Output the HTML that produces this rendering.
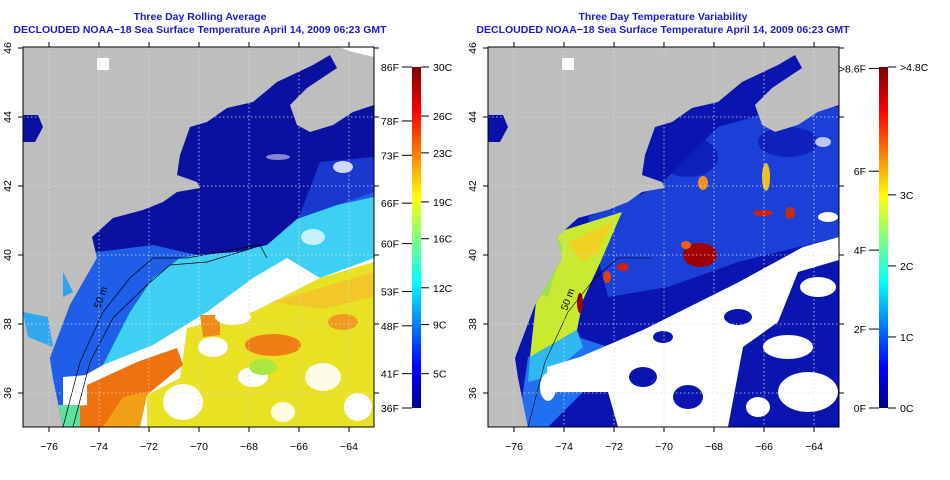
<!DOCTYPE html>
<html><head><meta charset="utf-8"><style>
html,body{margin:0;padding:0;background:#fff;}
body{width:950px;height:475px;overflow:hidden;font-family:"Liberation Sans",sans-serif;}
svg text{font-family:"Liberation Sans",sans-serif;}
</style></head><body>
<svg id="chart" width="950" height="475" viewBox="0 0 950 475" xmlns="http://www.w3.org/2000/svg">
<defs>
<clipPath id="plotclip"><rect x="0" y="0" width="351" height="380"/></clipPath>
<clipPath id="oceanclip"><path d="M40,380 L30,331 L27,311 L47,258 L74,211 L69,190 L90,171 L120,163 L140,155 L154,145 L177,141 L174,135 L154,128 L157,108 L167,80 L184,75 L204,61 L230,55 L254,35 L290,18 L307,8 L314,21 L284,41 L267,58 L274,78 L287,85 L310,78 L330,65 L351,58 L351,380 Z"/></clipPath>
<linearGradient id="jet" x1="0" y1="1" x2="0" y2="0">
<stop offset="0" stop-color="#00008f"/><stop offset="0.12" stop-color="#0000ff"/><stop offset="0.37" stop-color="#00ffff"/><stop offset="0.5" stop-color="#80ff80"/><stop offset="0.62" stop-color="#ffff00"/><stop offset="0.87" stop-color="#ff0000"/><stop offset="1" stop-color="#800000"/>
</linearGradient>
</defs>

<g fill="#1a1ac8" font-weight="bold" font-size="10.5" text-anchor="middle">
<text x="200" y="20">Three Day Rolling Average</text>
<text x="200" y="33">DECLOUDED NOAA−18 Sea Surface Temperature April 14, 2009 06:23 GMT</text>
</g>
<g fill="#1a1ac8" font-weight="bold" font-size="10.5" text-anchor="middle">
<text x="663" y="20">Three Day Temperature Variability</text>
<text x="663" y="33">DECLOUDED NOAA−18 Sea Surface Temperature April 14, 2009 06:23 GMT</text>
</g>

<!-- Left map -->
<g id="mapL" transform="translate(23,47)">
<g clip-path="url(#plotclip)">
<rect width="351" height="380" fill="#bebebe"/>
<path d="M0,68 L15,68 L20,80 L12,95 L0,95 Z" fill="#0a10a0"/>
<path d="M40,225 L50,245 L40,250 Z" fill="#30a0f0"/>
<path d="M0,265 L25,270 L30,300 L5,290 Z" fill="#30a8f0"/>
<rect x="74" y="11" width="12" height="12" fill="#fff"/>
<path d="M315,0 L351,0 L351,10 L330,5 Z" fill="#fff"/>
<g clip-path="url(#oceanclip)">
<rect width="351" height="380" fill="#0a10a0"/>
<path d="M274,175 L314,158 L351,145 L351,110 L297,115 Z" fill="#1838d0"/>
<path d="M0,200 L74,205 L130,198 L174,208 L214,205 L244,198 L274,175 L314,158 L351,145 L351,380 L0,380 Z" fill="#1e5ee8"/>
<path d="M157,211 L174,208 L214,205 L244,198 L274,172 L314,158 L351,150 L351,380 L80,380 L80,318 L107,265 L130,231 Z" fill="#3ed0f2"/>
<path d="M80,318 L130,298 L184,265 L230,231 L264,211 L297,231 L351,211 L351,380 L57,380 L57,331 Z" fill="#ffffff"/>
<path d="M164,281 L230,265 L297,231 L351,215 L351,380 L124,380 L124,348 L157,331 Z" fill="#e8e222"/>
<path d="M250,255 L300,240 L351,225 L351,250 L300,262 Z" fill="#f2c828"/>
<path d="M40,380 L64,338 L114,315 L154,301 L160,318 L124,348 L117,380 Z" fill="#f0720e"/>
<path d="M80,380 L100,350 L124,345 L117,380 Z" fill="#f2a018"/>
<path d="M177,268 L197,268 L197,288 L180,290 Z" fill="#f08a18"/>
<ellipse cx="250" cy="298" rx="28" ry="11" fill="#f07e14"/>
<ellipse cx="320" cy="275" rx="15" ry="8" fill="#f09a20"/>
<path d="M40,330 L64,328 L64,358 L40,360 Z" fill="#ffffff"/>
<path d="M27,358 L57,358 L57,380 L27,380 Z" fill="#60e0a0"/>
<ellipse cx="160" cy="355" rx="20" ry="18" fill="#ffffff"/>
<ellipse cx="190" cy="300" rx="15" ry="10" fill="#ffffff"/>
<ellipse cx="230" cy="330" rx="15" ry="10" fill="#ffffff"/>
<ellipse cx="300" cy="330" rx="18" ry="14" fill="#ffffff" opacity="0.9"/>
<ellipse cx="335" cy="360" rx="14" ry="14" fill="#ffffff"/>
<ellipse cx="260" cy="365" rx="12" ry="10" fill="#ffffff" opacity="0.85"/>
<ellipse cx="210" cy="270" rx="18" ry="8" fill="#ffffff"/>
<ellipse cx="240" cy="320" rx="14" ry="8" fill="#a8e840"/>
<ellipse cx="290" cy="190" rx="12" ry="8" fill="#ffffff" opacity="0.7"/>
<ellipse cx="320" cy="120" rx="10" ry="6" fill="#ffffff" opacity="0.8"/>
<ellipse cx="255" cy="110" rx="12" ry="3" fill="#ffffff" opacity="0.5"/>
</g>
<path d="M40,380 L57,315 L80,265 L107,231 L130,211 L164,211 L197,205 L237,198 L244,211" fill="none" stroke="#000" stroke-width="0.7"/>
<path d="M50,380 L67,315 L90,271 L124,238 L147,218 L184,215 L230,201" fill="none" stroke="#000" stroke-width="0.7"/>
<text x="0" y="0" font-size="10" font-family="Liberation Serif" transform="translate(77,262) rotate(-70)">50 m</text>
</g>
</g>

<!-- Right map -->
<g id="mapR" transform="translate(488,47)">
<g clip-path="url(#plotclip)">
<rect width="351" height="380" fill="#bebebe"/>
<path d="M0,68 L15,68 L20,80 L12,95 L0,95 Z" fill="#0a10a8"/>
<rect x="74" y="11" width="12" height="12" fill="#fff"/>
<g clip-path="url(#oceanclip)">
<rect width="351" height="380" fill="#0a14b0"/>
<path d="M100,170 L170,140 L230,80 L300,60 L351,60 L351,190 L250,215 L180,240 L120,250 Z" fill="#1a40d8"/>
<ellipse cx="200" cy="110" rx="30" ry="20" fill="#0a14b0" opacity="0.7"/>
<ellipse cx="300" cy="95" rx="30" ry="15" fill="#0a14b0" opacity="0.7"/>
<path d="M30,380 L40,310 L90,290 L120,300 L100,340 L60,380 Z" fill="#2070f0"/>
<path d="M67,186 L134,165 L112,216 L95,253 L89,283 L42,310 L49,246 Z" fill="#c8ea30"/>
<path d="M80,195 L125,175 L110,205 L95,215 Z" fill="#f0d020"/>
<path d="M49,246 L67,186 L75,200 L60,250 Z" fill="#a0e050"/>
<path d="M42,310 L89,283 L95,300 L60,330 L40,335 Z" fill="#30b8f0"/>
<ellipse cx="212" cy="208" rx="17" ry="12" fill="#a00000"/>
<ellipse cx="198" cy="198" rx="5" ry="4" fill="#f06010"/>
<ellipse cx="135" cy="220" rx="6" ry="4" fill="#d02010"/>
<ellipse cx="119" cy="230" rx="4" ry="6" fill="#e04010"/>
<ellipse cx="92" cy="256" rx="3" ry="10" fill="#a00000"/>
<ellipse cx="215" cy="136" rx="5" ry="7" fill="#f09020"/>
<ellipse cx="278" cy="130" rx="4" ry="14" fill="#f0c020"/>
<ellipse cx="275" cy="166" rx="10" ry="3" fill="#d02010"/>
<ellipse cx="302" cy="166" rx="5" ry="6" fill="#c03010"/>
<ellipse cx="90" cy="163" rx="14" ry="4" fill="#e05010" transform="rotate(-15 90 163)"/>
<path d="M59,320 L92,310 L155,283 L195,263 L249,236 L315,200 L351,190 L351,213 L310,225 L290,275 L255,300 L240,380 L130,380 L120,345 L80,345 L60,345 Z" fill="#ffffff"/>
<ellipse cx="300" cy="300" rx="25" ry="12" fill="#ffffff"/>
<ellipse cx="320" cy="345" rx="30" ry="20" fill="#ffffff"/>
<ellipse cx="330" cy="240" rx="18" ry="10" fill="#ffffff"/>
<ellipse cx="270" cy="360" rx="12" ry="10" fill="#ffffff"/>
<ellipse cx="200" cy="350" rx="15" ry="12" fill="#0a14b0"/>
<ellipse cx="155" cy="330" rx="14" ry="10" fill="#0a14b0"/>
<ellipse cx="250" cy="270" rx="14" ry="8" fill="#0a14b0"/>
<ellipse cx="175" cy="290" rx="10" ry="6" fill="#0a14b0"/>
<ellipse cx="60" cy="340" rx="8" ry="14" fill="#ffffff"/>
<ellipse cx="340" cy="170" rx="10" ry="5" fill="#ffffff"/>
<ellipse cx="335" cy="95" rx="8" ry="5" fill="#ffffff" opacity="0.7"/>
</g>
<path d="M40,380 L57,315 L80,265 L107,231 L130,211 L164,211" fill="none" stroke="#000" stroke-width="0.6"/>
<text x="0" y="0" font-size="10" font-family="Liberation Serif" transform="translate(79,264) rotate(-70)">50 m</text>
</g>
</g>

<g id="axes"></g>
<g id="cbars"></g>
</svg>
<script>
const lonTicks = [-76, -74, -72, -70, -68, -66, -64];
const latTicks = [36, 38, 40, 42, 44, 46];
const leftF = ["86F","78F","73F","66F","60F","53F","48F","41F","36F"];
const leftFc = [30, 25.6, 22.8, 18.9, 15.6, 11.7, 8.9, 5, 2.2];
const leftC = ["30C","26C","23C","19C","16C","12C","9C","5C"];
const leftCv = [30, 26, 23, 19, 16, 12, 9, 5];
const rightF = [">8.6F","6F","4F","2F","0F"];
const rightFv = [8.6, 6, 4, 2, 0];
const rightC = [">4.8C","3C","2C","1C","0C"];
const rightCv = [4.8, 3, 2, 1, 0];

const NS = "http://www.w3.org/2000/svg";
const axes = document.getElementById('axes');
const cb = document.getElementById('cbars');
function mk(tag, attrs, parent, txt){const e=document.createElementNS(NS,tag);for(const k in attrs)e.setAttribute(k,attrs[k]);if(txt!==undefined)e.textContent=txt;parent.appendChild(e);return e;}
function xScale(ox, lon){return ox + 1 + (lon + 77) * 25;}
function yScale(lat){return 427.5 - (lat - 35) * 34.5;}

[23, 488].forEach((ox, pi) => {
  const g = mk('g', {}, axes);
  
  
  lonTicks.forEach(lon => {
    const x = xScale(ox, lon);
    mk('line', {x1:x, y1:47, x2:x, y2:427, stroke:'#ddd', 'stroke-width':0.8, 'stroke-dasharray':'1.5,2.5'}, g);
    mk('line', {x1:x, y1:42, x2:x, y2:47, stroke:'#000'}, g);
    mk('line', {x1:x, y1:427, x2:x, y2:432, stroke:'#000'}, g);
    const t = mk('text', {x:x, y:450, 'font-size':10.5, 'text-anchor':'middle'}, g, '−' + Math.abs(lon));
    
    
  });
  latTicks.forEach(lat => {
    const y = yScale(lat);
    mk('line', {x1:ox, y1:y, x2:ox+351, y2:y, stroke:'#ddd', 'stroke-width':0.8, 'stroke-dasharray':'1.5,2.5'}, g);
    mk('line', {x1:ox-5, y1:y, x2:ox, y2:y, stroke:'#000'}, g);
    mk('line', {x1:ox+351, y1:y, x2:ox+356, y2:y, stroke:'#000'}, g);
    const t = mk('text', {x:0, y:0, 'font-size':10.5, 'text-anchor':'middle', transform:`translate(${ox-12},${y}) rotate(-90)`}, g, String(lat));
    
    
  });
  mk('rect', {x:ox, y:47, width:351, height:380, fill:'none', stroke:'#000', 'stroke-width':1}, g);
});

function colorbar(x, top, bot, vmin, vmax, lVals, lLabs, rVals, rLabs, name){
  const g = mk('g', {}, cb);
  
  
  const ys = v => bot - (v - vmin) / (vmax - vmin) * (bot - top);
  mk('rect', {x:x, y:top, width:9, height:bot-top, fill:'url(#jet)'}, g);
  lVals.forEach((v, i) => {
    const y = ys(v);
    mk('line', {x1:x-10, y1:y, x2:x, y2:y, stroke:'#000'}, g);
    const t = mk('text', {x:x-13, y:y+4, 'font-size':10.5, 'text-anchor':'end'}, g, lLabs[i]);
    
    
  });
  rVals.forEach((v, i) => {
    const y = ys(v);
    mk('line', {x1:x+9, y1:y, x2:x+17, y2:y, stroke:'#000'}, g);
    const t = mk('text', {x:x+21, y:y+4, 'font-size':10.5}, g, rLabs[i]);
    
    
  });
}
colorbar(412, 67, 408, 2.2, 30, leftFc, leftF, leftCv, leftC, 'left-colorbar');
colorbar(879, 67, 408, 0, 4.8, rightFv.map(f => f * 5 / 9), rightF, rightCv, rightC, 'right-colorbar');
</script>
</body></html>
